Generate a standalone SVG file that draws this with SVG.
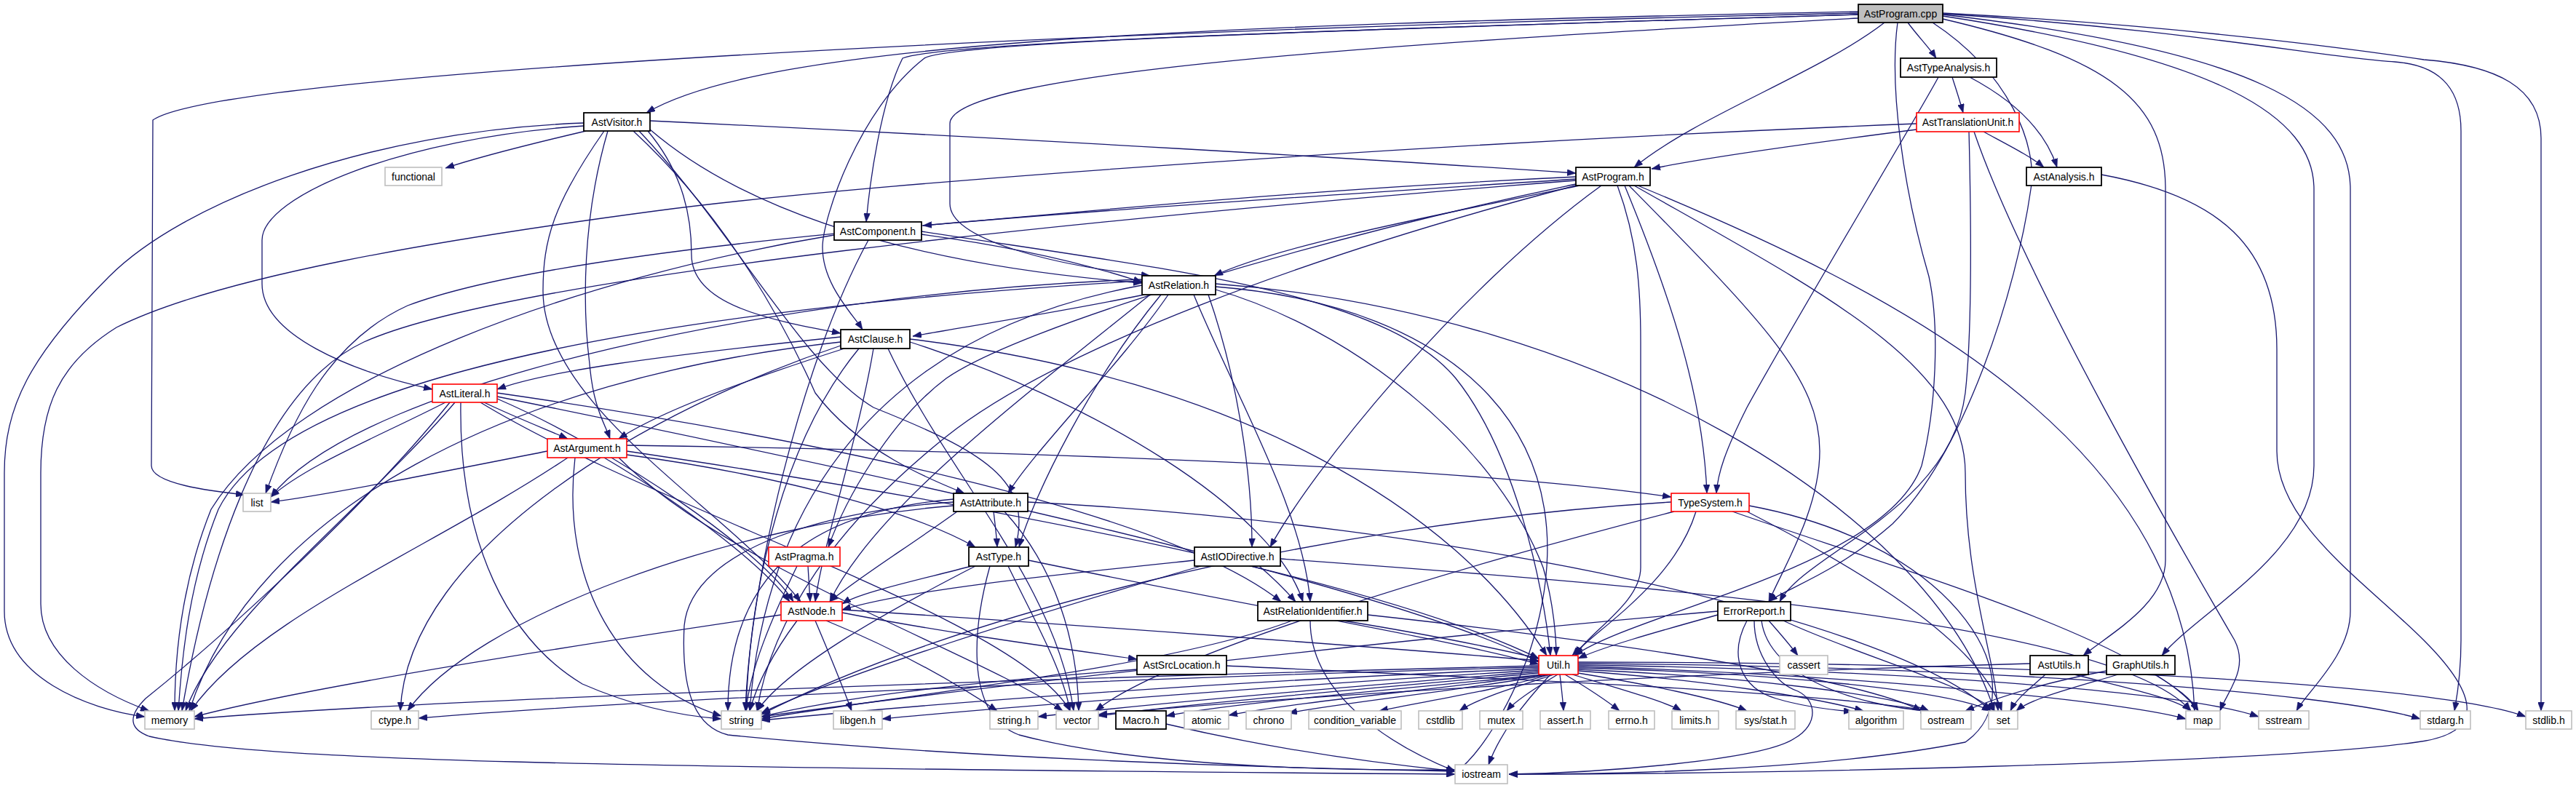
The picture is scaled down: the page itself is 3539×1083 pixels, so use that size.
<svg xmlns="http://www.w3.org/2000/svg" width="3539" height="1083" viewBox="0 0 3539 1083">
<style>
.bg{fill:#ffffff}
rect.k{fill:#fff;stroke:#000;stroke-width:1.8}
rect.r{fill:#fff;stroke:#ff0000;stroke-width:1.6}
rect.g{fill:#fff;stroke:#bfbfbf;stroke-width:1.6}
rect.root{fill:#bfbfbf;stroke:#000;stroke-width:1.8}
text{font-family:"Liberation Sans",Arial,Helvetica,sans-serif;font-size:14px;fill:#000;text-anchor:middle}
#edges path{fill:none;stroke:#191970;stroke-width:1.3;marker-end:url(#ah)}
</style>
<defs>
<marker id="ah" markerUnits="userSpaceOnUse" markerWidth="12" markerHeight="9" viewBox="0 0 12 9" refX="12" refY="4.5" orient="auto">
<path d="M0,0 L12,4.5 L0,9 z" fill="#191970" stroke="#191970" stroke-width="0.5"/>
</marker>
</defs>
<rect class="bg" x="0" y="0" width="3539" height="1083"/>
<g id="edges">
<!-- root -->
<path d="M2589,31 C2500,100 2330,160 2245,230"/>
<path d="M2621,31 C2635,50 2650,65 2660,80"/>
<path d="M2553,16 C1600,35 1050,60 888,155"/>
<path d="M2553,20 C1700,45 1290,60 1240,80 C1210,140 1195,250 1190,305"/>
<path d="M2553,20 C1700,45 1300,60 1270,80 C1180,150 1130,300 1130,340 C1130,390 1170,430 1185,453"/>
<path d="M2553,25 C1900,60 1305,100 1305,170 L1305,280 C1305,330 1450,365 1580,379"/>
<path d="M2553,18 C1500,40 300,100 210,165 L208,640 C208,665 290,675 336,680"/>
<path d="M2607,31 C2595,120 2615,260 2650,380 C2665,450 2660,560 2640,640 C2590,780 2250,840 2163,901"/>
<path d="M2655,31 C2760,100 2800,200 2790,260 C2770,400 2700,620 2600,720 C2520,790 2450,810 2430,827"/>
<path d="M2669,26 C2900,80 2975,140 2975,260 L2975,770 C2975,830 2900,870 2862,901"/>
<path d="M2669,22 C3050,80 3179,160 3179,260 L3179,640 C3179,760 3020,840 2970,901"/>
<path d="M2669,20 C3100,70 3229,150 3229,260 L3229,840 C3229,900 3170,950 3155,977"/>
<path d="M2669,19 C3000,40 3200,80 3290,85 C3360,90 3381,130 3381,180 L3381,880 C3381,930 3375,960 3372,977"/>
<path d="M2669,18 C3000,35 3250,70 3330,82 C3430,90 3491,120 3491,190 L3491,977"/>
<!-- AstTypeAnalysis -->
<path d="M2706,106 C2770,140 2810,180 2826,230"/>
<path d="M2682,106 C2688,125 2693,140 2697,155"/>
<path d="M2663,106 C2640,150 2460,450 2400,560 C2370,620 2360,650 2358,678"/>
<!-- AstTranslationUnit -->
<path d="M2633,178 C2500,195 2350,215 2269,232"/>
<path d="M2725,181 C2760,200 2790,215 2808,230"/>
<path d="M2705,181 C2708,300 2710,450 2700,540 C2680,700 2480,760 2445,827"/>
<path d="M2712,181 C2780,380 3000,760 3070,880 C3090,920 3060,950 3050,977"/>
<path d="M2633,170 C2000,195 1200,250 900,290 C600,330 300,380 160,450 C80,500 56,560 56,650 L56,830 C56,900 130,950 205,977"/>
<!-- AstAnalysis -->
<path d="M2887,240 C3050,270 3128,340 3128,480 L3128,620 C3128,720 3250,800 3330,880 C3420,970 3400,1010 3320,1020 C3100,1050 2400,1064 2073,1064"/>
<!-- AstVisitor -->
<path d="M805,180 C720,200 660,215 612,231"/>
<path d="M802,169 C500,180 250,280 150,380 C40,490 6,560 6,650 L6,840 C6,930 120,975 199,985"/>
<path d="M802,173 C550,190 360,270 360,330 L360,390 C360,460 480,510 594,535"/>
<path d="M835,180 C800,300 800,420 810,500 C815,560 830,580 838,603"/>
<path d="M830,180 C760,280 746,330 746,400 C746,560 1000,700 1100,827"/>
<path d="M870,180 C1000,300 1080,450 1120,540 C1180,620 1280,660 1325,678"/>
<path d="M878,180 C1010,320 1100,500 1200,560 C1350,620 1420,660 1395,752"/>
<path d="M890,180 C940,240 950,300 950,350 C950,420 1060,440 1155,458"/>
<path d="M893,178 C1000,270 1200,360 1569,389"/>
<path d="M893,166 C1400,190 1900,220 2165,238"/>
<!-- AstProgram.h -->
<path d="M2165,243 C1800,260 1500,290 1268,310"/>
<path d="M2170,255 C1950,300 1750,340 1668,379"/>
<path d="M2165,246 C1500,290 800,330 560,420 C450,470 400,580 365,678"/>
<path d="M2165,248 C1500,300 700,380 500,470 C350,540 280,800 250,977"/>
<path d="M2165,255 C1800,350 1450,480 1300,600 C1150,720 1060,850 1040,977"/>
<path d="M2165,253 C1800,330 1400,450 1300,520 C1220,580 1160,690 1138,752"/>
<path d="M2200,255 C2000,400 1800,650 1745,752"/>
<path d="M2222,255 C2250,330 2254,400 2254,470 L2254,780 C2254,830 2180,870 2165,901"/>
<path d="M2232,255 C2300,420 2340,550 2345,678"/>
<path d="M2238,255 C2420,440 2500,520 2500,620 C2500,700 2450,780 2430,827"/>
<path d="M2245,255 C2500,400 2700,500 2700,650 C2700,800 2740,900 2745,977"/>
<path d="M2250,255 C2600,400 3000,600 3015,977"/>
<!-- AstComponent -->
<path d="M1266,322 C1400,340 1500,365 1569,388"/>
<path d="M1146,323 C800,380 400,520 290,700 C250,800 240,900 240,977"/>
<path d="M1193,330 C1100,500 1030,800 1024,977"/>
<path d="M1266,318 C1600,370 1900,400 2000,520 C2080,620 2120,800 2130,901"/>
<!-- AstRelation -->
<path d="M1572,405 C1450,430 1320,450 1254,462"/>
<path d="M1605,405 C1540,500 1420,620 1385,678"/>
<path d="M1595,405 C1500,520 1420,680 1400,752"/>
<path d="M1580,405 C1400,550 1200,700 1140,827"/>
<path d="M1640,405 C1700,550 1790,700 1800,827"/>
<path d="M1660,405 C1700,520 1720,650 1720,752"/>
<path d="M1670,398 C1850,450 2050,600 2120,780 C2135,830 2138,880 2138,901"/>
<path d="M1670,394 C2000,420 2200,600 2100,900 C2070,980 2030,1040 1999,1062"/>
<path d="M1670,390 C2200,430 2650,700 2740,977"/>
<path d="M1569,386 C1000,420 400,500 300,700 C260,800 250,900 245,977"/>
<path d="M1569,392 C1200,460 1050,700 1030,977"/>
<path d="M1569,384 C1100,400 500,520 372,683"/>
<!-- AstClause -->
<path d="M1155,463 C900,490 750,510 683,535"/>
<path d="M1160,479 C1000,530 900,570 850,603"/>
<path d="M1200,479 C1180,600 1130,750 1120,827"/>
<path d="M1250,470 C1500,550 1750,700 1790,827"/>
<path d="M1250,466 C1700,520 2000,700 2125,901"/>
<path d="M1155,470 C700,520 350,700 260,977"/>
<path d="M1180,479 C1080,600 1030,800 1025,977"/>
<path d="M1220,479 C1300,650 1450,800 1475,977"/>
<path d="M1155,475 C900,560 560,750 550,977"/>
<!-- AstLiteral -->
<path d="M665,553 C700,570 750,590 780,603"/>
<path d="M683,548 C850,620 1050,760 1090,827"/>
<path d="M683,540 C1100,600 1600,700 1760,827"/>
<path d="M612,553 C520,600 420,640 372,683"/>
<path d="M625,553 C500,700 300,850 255,977"/>
<path d="M618,553 C500,700 300,880 200,960 C175,985 178,1002 205,1012 C350,1045 800,1055 1999,1064"/>
<path d="M633,553 C630,750 700,880 800,940 C880,975 950,985 991,988"/>
<path d="M683,545 C1200,650 1900,800 2114,910"/>
<path d="M660,553 C900,700 1400,850 1470,977"/>
<!-- AstArgument -->
<path d="M752,620 C600,650 450,680 372,690"/>
<path d="M780,629 C600,750 350,850 262,977"/>
<path d="M790,629 C770,800 850,940 991,984"/>
<path d="M830,629 C950,700 1050,780 1085,827"/>
<path d="M861,625 C1050,650 1250,700 1340,752"/>
<path d="M861,612 C1400,620 2000,640 2296,683"/>
<path d="M861,620 C1400,700 1900,800 2114,905"/>
<path d="M850,629 C1000,780 1350,900 1460,977"/>
<!-- AstAttribute -->
<path d="M1315,703 C1250,750 1170,800 1140,827"/>
<path d="M1365,703 C1367,720 1369,735 1370,752"/>
<path d="M1380,703 C1450,780 1480,880 1482,977"/>
<path d="M1310,686 C1150,700 1000,760 1000,977"/>
<path d="M1310,690 C1150,700 950,750 940,860 C935,960 960,1000 1000,1010 C1300,1040 1700,1055 1999,1060"/>
<path d="M1310,695 C1000,720 650,850 560,977"/>
<path d="M1412,690 C2000,720 2600,850 2735,977"/>
<!-- AstPragma -->
<path d="M1110,778 C1111,795 1112,810 1113,827"/>
<path d="M1095,778 C1060,850 1030,920 1025,977"/>
<!-- AstType -->
<path d="M1335,778 C1250,800 1180,815 1157,830"/>
<path d="M1340,778 C1200,850 1080,920 1040,977"/>
<path d="M1385,778 C1420,850 1460,920 1470,977"/>
<path d="M1360,778 C1340,850 1320,980 1400,1010 C1550,1050 1800,1060 1999,1058"/>
<path d="M1413,770 C1700,830 2000,880 2114,913"/>
<!-- AstIODirective -->
<path d="M1641,770 C1450,790 1250,810 1157,838"/>
<path d="M1730,778 C1750,795 1765,810 1780,827"/>
<path d="M1650,778 C1400,850 1150,930 1046,980"/>
<path d="M1759,768 C2200,800 2900,850 3010,977"/>
<!-- AstNode -->
<path d="M1073,845 C700,900 400,950 267,985"/>
<path d="M1157,842 C1300,870 1450,890 1562,906"/>
<path d="M1157,838 C1500,860 1900,890 2114,908"/>
<path d="M1120,853 C1140,900 1160,950 1170,977"/>
<path d="M1135,853 C1250,900 1330,950 1370,977"/>
<path d="M1095,853 C1060,900 1040,940 1030,977"/>
<!-- AstSrcLocation -->
<path d="M1562,920 C1300,940 1150,960 1046,985"/>
<path d="M1685,915 C2000,930 2500,950 2650,977"/>
<!-- AstRelationIdentifier -->
<path d="M1775,853 C1600,920 1200,960 1046,988"/>
<path d="M1845,853 C1950,870 2050,890 2114,905"/>
<path d="M1879,845 C2200,880 2550,930 2640,977"/>
<path d="M1800,853 C1800,950 1900,1020 1999,1060"/>
<!-- TypeSystem -->
<path d="M2330,703 C2300,800 2200,860 2160,901"/>
<path d="M2296,690 C1800,720 1300,850 1046,982"/>
<path d="M2300,703 C2000,780 1600,900 1505,977"/>
<path d="M2380,703 C2600,780 2950,880 3020,977"/>
<path d="M2400,703 C2550,780 2720,880 2750,977"/>
<path d="M2403,695 C2700,750 2800,950 2700,1020 C2500,1060 2200,1064 2073,1064"/>
<!-- ErrorReport -->
<path d="M2360,845 C2270,870 2200,890 2168,905"/>
<path d="M2360,840 C1900,880 1300,950 1046,985"/>
<path d="M2430,853 C2445,870 2458,885 2470,901"/>
<path d="M2410,853 C2410,900 2440,940 2470,950 C2495,962 2500,995 2465,1015 C2420,1045 2200,1062 2073,1064"/>
<path d="M2400,853 C2375,900 2390,945 2440,960 C2480,972 2520,976 2545,978"/>
<path d="M2420,853 C2430,930 2550,970 2650,977"/>
<path d="M2450,853 C2550,900 2700,940 2740,977"/>
<!-- Util -->
<path d="M2114,915 C1500,930 600,960 267,988"/>
<path d="M2114,917 C1600,930 900,960 575,987"/>
<path d="M2114,919 C1700,935 1300,965 1046,990"/>
<path d="M2114,921 C1800,940 1400,970 1212,988"/>
<path d="M2114,923 C1900,940 1600,965 1426,985"/>
<path d="M2114,925 C1900,945 1650,965 1509,984"/>
<path d="M2120,927 C1900,950 1700,965 1602,984"/>
<path d="M2125,927 C1950,950 1780,965 1688,983"/>
<path d="M2130,927 C2000,950 1850,965 1770,980"/>
<path d="M2130,927 C2050,950 1950,965 1895,977"/>
<path d="M2135,927 C2080,945 2030,960 2005,977"/>
<path d="M2140,927 C2110,945 2080,965 2070,977"/>
<path d="M2143,927 C2145,945 2147,960 2148,977"/>
<path d="M2150,927 C2180,945 2210,965 2225,977"/>
<path d="M2160,927 C2220,945 2290,965 2310,977"/>
<path d="M2168,925 C2260,940 2360,960 2400,977"/>
<path d="M2168,922 C2350,935 2500,960 2560,977"/>
<path d="M2168,920 C2400,930 2600,955 2650,977"/>
<path d="M2168,918 C2450,925 2680,950 2735,977"/>
<path d="M2168,916 C2500,925 2900,960 3003,988"/>
<path d="M2168,914 C2600,920 3000,950 3103,985"/>
<path d="M2168,912 C2700,915 3200,950 3325,988"/>
<path d="M2168,910 C2800,910 3350,940 3470,985"/>
<path d="M2130,927 C2090,970 2060,1010 2045,1051"/>
<!-- Macro -->
<path d="M1602,995 C1750,1030 1900,1050 1999,1060"/>
<!-- AstUtils -->
<path d="M2789,912 C2300,925 1800,955 1509,982"/>
<path d="M2810,927 C2790,945 2770,960 2762,977"/>
<path d="M2850,927 C2920,945 2990,960 3010,977"/>
<!-- GraphUtils -->
<path d="M2894,922 C2800,940 2740,960 2700,977"/>
<path d="M2910,927 C2850,945 2790,960 2770,977"/>
<path d="M2960,927 C2990,945 3010,960 3020,977"/>
</g>
<g id="node-root"><rect class="root" x="2553" y="6" width="116" height="25"/><text x="2611" y="23.5">AstProgram.cpp</text></g>
<g id="node-AstTypeAnalysis"><rect class="k" x="2611" y="80" width="132" height="26"/><text x="2677" y="98">AstTypeAnalysis.h</text></g>
<g id="node-AstVisitor"><rect class="k" x="802" y="155" width="91" height="25"/><text x="847.5" y="172.5">AstVisitor.h</text></g>
<g id="node-AstTranslationUnit"><rect class="r" x="2633" y="155" width="141" height="26"/><text x="2703.5" y="173">AstTranslationUnit.h</text></g>
<g id="node-AstProgramH"><rect class="k" x="2165" y="230" width="102" height="25"/><text x="2216" y="247.5">AstProgram.h</text></g>
<g id="node-AstAnalysis"><rect class="k" x="2784" y="230" width="103" height="25"/><text x="2835.5" y="247.5">AstAnalysis.h</text></g>
<g id="node-functional"><rect class="g" x="529" y="230" width="78" height="25"/><text x="568" y="247.5">functional</text></g>
<g id="node-AstComponent"><rect class="k" x="1146" y="305" width="120" height="25"/><text x="1206" y="322.5">AstComponent.h</text></g>
<g id="node-AstRelation"><rect class="k" x="1569" y="379" width="101" height="26"/><text x="1619.5" y="397">AstRelation.h</text></g>
<g id="node-AstClause"><rect class="k" x="1155" y="453" width="95" height="26"/><text x="1202.5" y="471">AstClause.h</text></g>
<g id="node-AstLiteral"><rect class="r" x="594" y="528" width="89" height="25"/><text x="638.5" y="545.5">AstLiteral.h</text></g>
<g id="node-AstArgument"><rect class="r" x="752" y="603" width="109" height="26"/><text x="806.5" y="621">AstArgument.h</text></g>
<g id="node-list"><rect class="g" x="334" y="678" width="38" height="25"/><text x="353" y="695.5">list</text></g>
<g id="node-AstAttribute"><rect class="k" x="1310" y="678" width="102" height="25"/><text x="1361" y="695.5">AstAttribute.h</text></g>
<g id="node-TypeSystem"><rect class="r" x="2296" y="678" width="107" height="25"/><text x="2349.5" y="695.5">TypeSystem.h</text></g>
<g id="node-AstPragma"><rect class="r" x="1056" y="752" width="98" height="26"/><text x="1105" y="770">AstPragma.h</text></g>
<g id="node-AstType"><rect class="k" x="1331" y="752" width="82" height="26"/><text x="1372" y="770">AstType.h</text></g>
<g id="node-AstIODirective"><rect class="k" x="1641" y="752" width="118" height="26"/><text x="1700" y="770">AstIODirective.h</text></g>
<g id="node-AstNode"><rect class="r" x="1073" y="827" width="84" height="26"/><text x="1115" y="845">AstNode.h</text></g>
<g id="node-AstRelationIdentifier"><rect class="k" x="1728" y="827" width="151" height="26"/><text x="1803.5" y="845">AstRelationIdentifier.h</text></g>
<g id="node-ErrorReport"><rect class="k" x="2360" y="827" width="100" height="26"/><text x="2410" y="845">ErrorReport.h</text></g>
<g id="node-AstSrcLocation"><rect class="k" x="1562" y="901" width="123" height="26"/><text x="1623.5" y="919">AstSrcLocation.h</text></g>
<g id="node-Util"><rect class="r" x="2114" y="901" width="54" height="26"/><text x="2141" y="919">Util.h</text></g>
<g id="node-cassert"><rect class="g" x="2445" y="901" width="66" height="26"/><text x="2478" y="919">cassert</text></g>
<g id="node-AstUtils"><rect class="k" x="2789" y="901" width="80" height="26"/><text x="2829" y="919">AstUtils.h</text></g>
<g id="node-GraphUtils"><rect class="k" x="2894" y="901" width="94" height="26"/><text x="2941" y="919">GraphUtils.h</text></g>
<g id="node-memory"><rect class="g" x="199" y="977" width="68" height="25"/><text x="233" y="994.5">memory</text></g>
<g id="node-ctype"><rect class="g" x="510" y="977" width="65" height="25"/><text x="542.5" y="994.5">ctype.h</text></g>
<g id="node-string"><rect class="g" x="991" y="977" width="55" height="25"/><text x="1018.5" y="994.5">string</text></g>
<g id="node-libgen"><rect class="g" x="1145" y="977" width="67" height="25"/><text x="1178.5" y="994.5">libgen.h</text></g>
<g id="node-stringh"><rect class="g" x="1360" y="977" width="66" height="25"/><text x="1393" y="994.5">string.h</text></g>
<g id="node-vector"><rect class="g" x="1451" y="977" width="58" height="25"/><text x="1480" y="994.5">vector</text></g>
<g id="node-Macro"><rect class="k" x="1533" y="977" width="69" height="25"/><text x="1567.5" y="994.5">Macro.h</text></g>
<g id="node-atomic"><rect class="g" x="1627" y="977" width="61" height="25"/><text x="1657.5" y="994.5">atomic</text></g>
<g id="node-chrono"><rect class="g" x="1712" y="977" width="62" height="25"/><text x="1743" y="994.5">chrono</text></g>
<g id="node-condition_variable"><rect class="g" x="1798" y="977" width="127" height="25"/><text x="1861.5" y="994.5">condition_variable</text></g>
<g id="node-cstdlib"><rect class="g" x="1949" y="977" width="60" height="25"/><text x="1979" y="994.5">cstdlib</text></g>
<g id="node-mutex"><rect class="g" x="2033" y="977" width="59" height="25"/><text x="2062.5" y="994.5">mutex</text></g>
<g id="node-asserth"><rect class="g" x="2116" y="977" width="69" height="25"/><text x="2150.5" y="994.5">assert.h</text></g>
<g id="node-errno"><rect class="g" x="2210" y="977" width="63" height="25"/><text x="2241.5" y="994.5">errno.h</text></g>
<g id="node-limits"><rect class="g" x="2297" y="977" width="64" height="25"/><text x="2329" y="994.5">limits.h</text></g>
<g id="node-sysstat"><rect class="g" x="2385" y="977" width="81" height="25"/><text x="2425.5" y="994.5">sys/stat.h</text></g>
<g id="node-algorithm"><rect class="g" x="2540" y="977" width="75" height="25"/><text x="2577.5" y="994.5">algorithm</text></g>
<g id="node-ostream"><rect class="g" x="2639" y="977" width="69" height="25"/><text x="2673.5" y="994.5">ostream</text></g>
<g id="node-set"><rect class="g" x="2732" y="977" width="40" height="25"/><text x="2752" y="994.5">set</text></g>
<g id="node-map"><rect class="g" x="3003" y="977" width="47" height="25"/><text x="3026.5" y="994.5">map</text></g>
<g id="node-sstream"><rect class="g" x="3103" y="977" width="69" height="25"/><text x="3137.5" y="994.5">sstream</text></g>
<g id="node-stdarg"><rect class="g" x="3325" y="977" width="69" height="25"/><text x="3359.5" y="994.5">stdarg.h</text></g>
<g id="node-stdlib"><rect class="g" x="3470" y="977" width="63" height="25"/><text x="3501.5" y="994.5">stdlib.h</text></g>
<g id="node-iostream"><rect class="g" x="1999" y="1051" width="72" height="26"/><text x="2035" y="1069">iostream</text></g>
</svg>
